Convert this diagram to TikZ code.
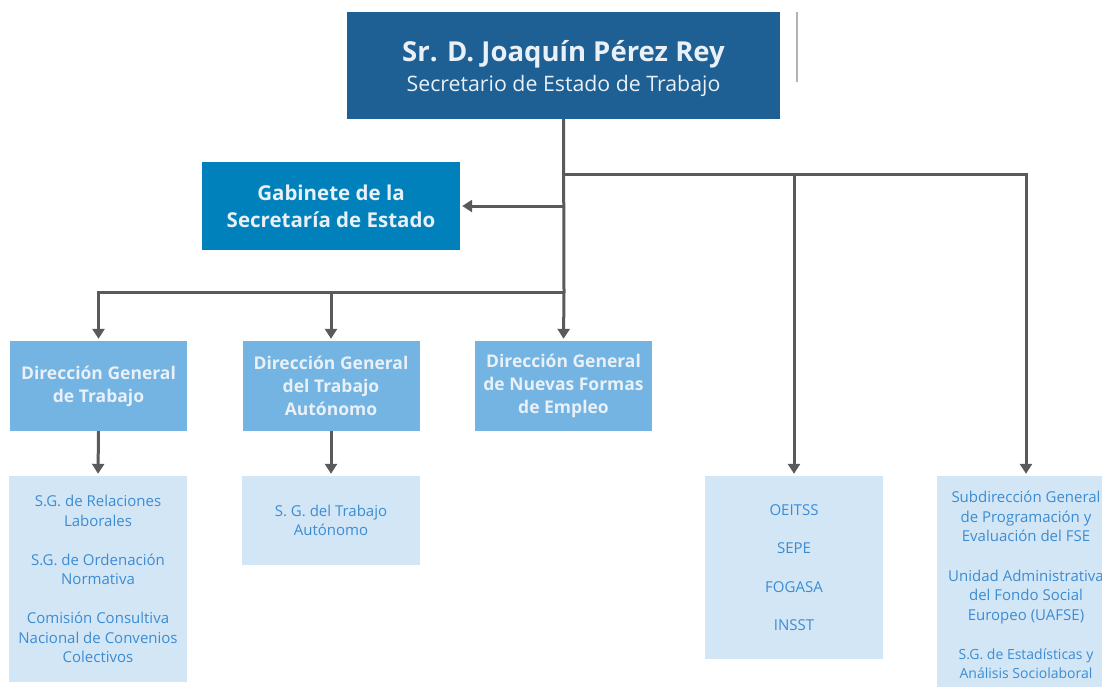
\documentclass[tikz,border=0pt]{standalone}
\usepackage{fontspec}
\setmainfont{Open Sans}
\usetikzlibrary{arrows.meta,calc}
\definecolor{topblue}{HTML}{1E6094}
\definecolor{gabblue}{HTML}{0081BB}
\definecolor{dgblue}{HTML}{74B4E2}
\definecolor{lightblue}{HTML}{D3E6F6}
\definecolor{lighttext}{HTML}{3C8CD2}
\definecolor{linegray}{HTML}{5A5A5A}
\definecolor{whitish}{HTML}{E9F0F7}
\tikzset{
  box/.style={rectangle, inner sep=0pt, align=center, text=whitish},
  topbox/.style={box, fill=topblue, minimum width=433pt, minimum height=107pt},
  gabbox/.style={box, fill=gabblue, minimum width=258pt, minimum height=88pt,
     font=\fontsize{20.5}{27}\selectfont\bfseries},
  dgbox/.style={box, fill=dgblue, minimum width=177pt, minimum height=90pt,
     font=\fontsize{17.5}{23}\selectfont\bfseries},
  subbox/.style={rectangle, inner sep=0pt, align=center, fill=lightblue, text=lighttext,
     minimum width=178pt, font=\fontsize{15}{19.5}\selectfont},
  conn/.style={draw=linegray, line width=3pt},
  arr/.style={conn, -{Triangle[width=12pt,length=10pt]}, shorten >=2pt},
}
\begin{document}
\begin{tikzpicture}[x=1pt,y=-1pt]
\useasboundingbox (0,0) rectangle (1102,686);
\fill[white] (0,0) rectangle (1102,686);

% top
\node[topbox] (top) at (563.5,65.5) {};
\node[text=whitish, align=center, font=\fontsize{27.5}{31}\selectfont\bfseries] (topname) at (563.5,54.5) {Sr. D. Joaquín Pérez Rey};
\node[text=whitish, align=center, font=\fontsize{21.3}{31}\selectfont] (toptitle) at (563.5,86) {Secretario de Estado de Trabajo};
\coordinate (tk1) at (797,12);
\coordinate (tk2) at (797,82);
\draw[draw=black!30, line width=1.2pt] (tk1) -- (tk2);

% gabinete
\node[gabbox] (gab) at (331,206) {Gabinete de la\\Secretaría de Estado};

% direcciones generales
\node[dgbox] (dg1) at (98.5,386) {Dirección General\\de Trabajo};
\node[dgbox] (dg2) at (331,386) {Dirección General\\del Trabajo\\Autónomo};
\node[dgbox] (dg3) at (563.5,386) {Dirección General\\de Nuevas Formas\\de Empleo};

% sub boxes
\node[subbox, minimum height=206pt] (sg1) at (98,579) {S.G. de Relaciones\\Laborales\\[19.5pt]S.G. de Ordenación\\Normativa\\[19.5pt]Comisión Consultiva\\Nacional de Convenios\\Colectivos};
\node[subbox, minimum height=89pt] (sg2) at (331,520.5) {S. G. del Trabajo\\Autónomo};
\node[subbox, minimum height=183pt, font=\fontsize{15}{38.5}\selectfont] (oe) at (794,567.5) {OEITSS\\SEPE\\FOGASA\\INSST};
\node[subbox, minimum height=218pt, font=\fontsize{15}{19.7}\selectfont] (rb) at (1026,585) {Subdirección General\\de Programación y\\Evaluación del FSE\\[19.5pt]Unidad Administrativa\\del Fondo Social\\Europeo (UAFSE)\\[19pt]{\fontsize{14}{19}\selectfont S.G. de Estadísticas y}\\{\fontsize{14}{19}\selectfont Análisis Sociolaboral}};

% connectors
\coordinate (j1) at (564,174);
\coordinate (j2) at (564,206);
\coordinate (j3) at (564,292);
\draw[conn] (top.south) -- (j3);
\draw[arr] (j2) -- (gab.east);
\draw[arr] (j1) -| (rb.north);
\draw[arr] (oe.north |- j1) -- (oe.north);
\draw[arr] (j3) -| (dg1.north);
\draw[arr] (dg2.north |- j3) -- (dg2.north);
\draw[arr] (j3) -- (dg3.north);
\draw[arr] (dg1.south) -- (sg1.north);
\draw[arr] (dg2.south) -- (sg2.north);
\end{tikzpicture}
\end{document}
